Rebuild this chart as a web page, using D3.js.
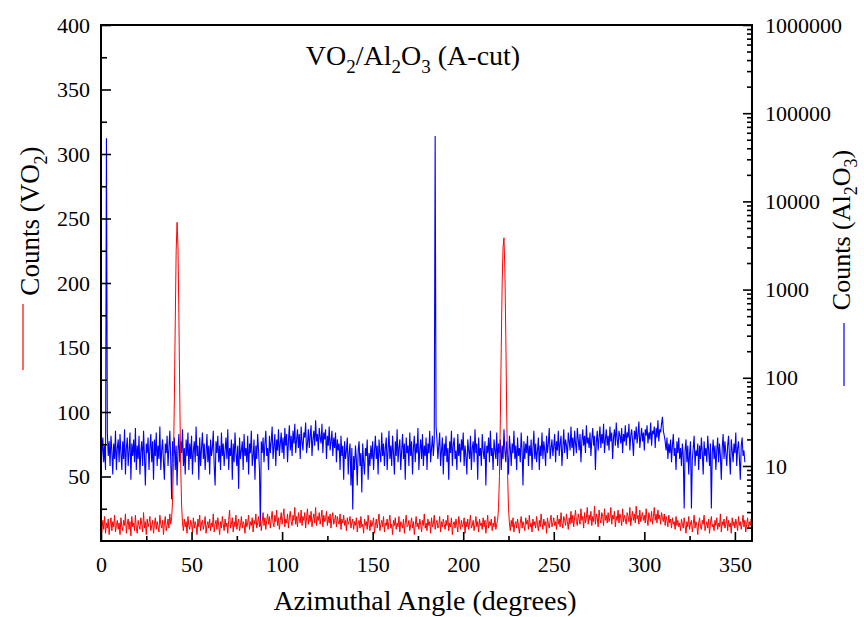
<!DOCTYPE html>
<html>
<head>
<meta charset="utf-8">
<script src="https://cdn.jsdelivr.net/npm/d3@7"></script>
</head>
<body style="margin:0">
<script>
// angle step of both scans (degrees)
var angleStep = 0.5;

// VO2 counts (left, linear axis), 0 to 360 deg, 20 values per row = 10 deg
var vo2Counts = [
  12, 7, 16, 9, 19, 6, 14, 10, 17, 5, 13, 18, 8, 15, 11, 20, 7, 12, 16, 9,
  14, 5, 18, 11, 8, 16, 12, 21, 6, 13, 17, 9, 15, 4, 19, 11, 14, 8, 20, 10,
  6, 16, 12, 9, 18, 13, 7, 22, 10, 15, 5, 17, 11, 14, 19, 8, 12, 16, 6, 13,
  18, 9, 15, 11, 7, 20, 13, 10, 16, 5, 14, 19, 8, 12, 17, 10, 21, 13, 18, 30,
  60, 110, 170, 225, 247, 228, 175, 110, 58, 28, 14, 8, 17, 11, 15, 6, 19, 12, 9, 16,
  13, 7, 18, 10, 15, 12, 5, 17, 11, 20, 8, 14, 16, 9, 13, 19, 6, 12, 15, 10,
  17, 8, 14, 11, 21, 7, 13, 16, 9, 18, 12, 5, 15, 10, 19, 13, 8, 17, 11, 14,
  6, 16, 24, 10, 13, 18, 7, 15, 11, 20, 9, 14, 17, 8, 12, 19, 10, 15, 13, 6,
  17, 11, 14, 20, 9, 15, 12, 18, 7, 16, 13, 21, 10, 14, 19, 11, 17, 8, 15, 22,
  12, 18, 9, 16, 21, 13, 19, 10, 17, 23, 14, 11, 20, 15, 24, 12, 18, 9, 16, 22,
  13, 19, 25, 11, 17, 14, 21, 10, 18, 23, 15, 12, 20, 16, 26, 13, 19, 11, 22, 17,
  14, 24, 12, 19, 16, 22, 10, 18, 25, 13, 20, 15, 23, 11, 17, 21, 14, 26, 12, 19,
  16, 22, 13, 18, 24, 11, 20, 15, 17, 23, 12, 19, 14, 21, 10, 18, 22, 13, 16, 20,
  11, 19, 15, 13, 21, 9, 17, 14, 20, 12, 16, 8, 18, 13, 15, 19, 10, 14, 17, 9,
  15, 12, 18, 7, 14, 16, 10, 19, 11, 13, 6, 17, 12, 15, 9, 20, 13, 8, 16, 11,
  14, 18, 6, 12, 17, 10, 15, 21, 8, 13, 16, 11, 19, 7, 14, 12, 17, 9, 15, 20,
  10, 13, 5, 16, 12, 18, 9, 14, 11, 19, 7, 15, 13, 10, 17, 6, 14, 20, 11, 12,
  16, 8, 13, 18, 10, 15, 5, 12, 19, 11, 14, 9, 17, 13, 7, 16, 12, 21, 10, 14,
  8, 17, 12, 15, 6, 18, 11, 13, 20, 9, 14, 16, 10, 12, 19, 7, 15, 11, 17, 13,
  9, 16, 12, 20, 8, 14, 11, 18, 5, 13, 15, 10, 17, 12, 7, 19, 14, 9, 16, 11,
  13, 18, 6, 15, 11, 17, 9, 14, 20, 10, 12, 16, 8, 13, 19, 11, 15, 7, 17, 12,
  14, 9, 18, 11, 16, 6, 13, 20, 10, 15, 12, 17, 8, 14, 11, 19, 9, 13, 16, 26,
  50, 95, 150, 200, 228, 235, 210, 160, 100, 52, 25, 14, 8, 16, 11, 18, 7, 13, 15, 10,
  17, 12, 6, 14, 19, 10, 15, 12, 8, 18, 13, 16, 9, 20, 11, 14, 7, 17, 12, 15,
  10, 19, 13, 8, 16, 11, 21, 14, 9, 17, 12, 15, 6, 18, 13, 10, 16, 20, 11, 14,
  18, 12, 15, 9, 20, 13, 17, 11, 22, 14, 10, 19, 16, 12, 21, 15, 9, 18, 13, 23,
  14, 20, 11, 18, 24, 15, 12, 21, 17, 13, 25, 16, 19, 10, 22, 14, 18, 26, 13, 20,
  16, 23, 12, 19, 15, 27, 13, 21, 18, 11, 24, 17, 14, 22, 19, 12, 25, 16, 20, 14,
  22, 15, 18, 26, 13, 20, 17, 23, 11, 19, 16, 24, 14, 21, 18, 12, 25, 15, 20, 17,
  13, 22, 19, 15, 26, 12, 18, 23, 16, 21, 14, 27, 17, 20, 13, 24, 15, 19, 22, 16,
  20, 14, 25, 17, 12, 22, 18, 15, 23, 13, 19, 26, 16, 21, 14, 24, 17, 20, 13, 22,
  18, 15, 21, 12, 19, 16, 11, 20, 14, 17, 10, 18, 13, 15, 9, 19, 12, 16, 11, 14,
  8, 17, 13, 10, 18, 12, 6, 15, 11, 19, 9, 14, 16, 7, 13, 20, 10, 15, 12, 5,
  14, 18, 11, 9, 16, 13, 20, 8, 12, 15, 10, 17, 6, 14, 19, 11, 13, 8, 16, 12,
  18, 9, 14, 11, 21, 7, 15, 12, 17, 10, 13, 19, 8, 16, 11, 14, 6, 18, 12, 15,
  10, 17, 13, 8, 19, 12, 15, 9, 14, 20, 11, 16, 7, 13, 18, 10, 15, 12, 17, 9,
  13
];

// Al2O3 counts (right, log axis), 0 to 355.5 deg, 20 values per row = 10 deg
var al2o3Counts = [
  8, 14, 21, 11, 17, 9, 52000, 24, 13, 19, 10, 22, 15, 8, 18, 12, 25, 9, 16, 20,
  11, 23, 14, 9, 19, 12, 26, 8, 16, 21, 10, 15, 24, 7, 18, 13, 20, 11, 27, 9,
  17, 12, 22, 8, 15, 19, 10, 25, 13, 6, 18, 14, 21, 9, 16, 23, 11, 19, 7, 20,
  13, 24, 10, 17, 12, 28, 9, 15, 20, 11, 7, 18, 14, 22, 10, 16, 25, 12, 4.2, 19,
  13, 21, 9, 17, 6, 15, 23, 11, 19, 14, 26, 10, 16, 8, 20, 13, 24, 9, 18, 12,
  22, 8, 15, 19, 11, 28, 13, 17, 7, 21, 10, 16, 24, 12, 18, 9, 14, 23, 11, 17,
  8, 20, 13, 16, 25, 10, 6, 19, 14, 22, 11, 17, 9, 24, 13, 18, 10, 15, 21, 12,
  26, 9, 16, 13, 20, 7, 18, 11, 24, 14, 10, 17, 5.5, 21, 12, 15, 19, 9, 23, 13,
  16, 11, 22, 8, 18, 14, 25, 10, 13, 20, 7, 17, 12, 23, 15, 9, 2.1, 19, 14, 21,
  11, 18, 25, 13, 16, 9, 22, 14, 19, 28, 12, 17, 23, 10, 20, 15, 26, 13, 18, 24,
  14, 21, 12, 27, 17, 23, 11, 19, 29, 15, 22, 13, 25, 18, 30, 14, 20, 26, 16, 23,
  12, 28, 19, 15, 24, 21, 31, 14, 18, 26, 16, 22, 29, 13, 20, 25, 17, 33, 19, 23,
  15, 27, 21, 18, 30, 14, 24, 20, 26, 12, 22, 17, 28, 15, 19, 25, 13, 21, 16, 24,
  11, 20, 15, 18, 9, 22, 13, 17, 7, 19, 12, 15, 21, 8, 14, 18, 6, 16, 3.2, 13,
  9, 17, 12, 6, 15, 19, 10, 14, 5, 18, 11, 8, 16, 13, 20, 7, 14, 10, 17, 12,
  19, 9, 15, 22, 12, 17, 8, 20, 14, 11, 24, 13, 18, 10, 16, 21, 9, 15, 25, 12,
  17, 10, 22, 14, 8, 19, 13, 26, 11, 16, 20, 9, 15, 23, 12, 18, 7, 21, 14, 17,
  10, 24, 13, 19, 8, 16, 22, 11, 18, 14, 27, 9, 15, 20, 12, 23, 10, 17, 13, 21,
  9, 18, 14, 25, 11, 16, 22, 13, 19, 55000, 28, 20, 12, 17, 24, 10, 15, 21, 8, 18,
  13, 22, 11, 16, 7, 19, 14, 25, 10, 17, 21, 12, 15, 9, 23, 13, 18, 11, 20, 15,
  24, 10, 17, 13, 8, 20, 15, 12, 22, 9, 16, 19, 11, 26, 14, 18, 7, 21, 13, 16,
  10, 23, 15, 12, 19, 6, 17, 14, 21, 11, 25, 13, 16, 9, 20, 15, 12, 24, 10, 18,
  14, 20, 9, 17, 12, 26, 15, 11, 19, 13, 8, 22, 16, 10, 18, 14, 25, 12, 17, 9,
  21, 13, 16, 11, 24, 15, 6, 19, 12, 18, 14, 22, 10, 17, 13, 20, 9, 16, 25, 12,
  18, 11, 15, 21, 9, 17, 13, 24, 12, 19, 15, 10, 22, 14, 18, 27, 12, 16, 20, 13,
  17, 23, 11, 19, 15, 25, 13, 18, 22, 10, 16, 26, 14, 20, 17, 12, 24, 19, 15, 28,
  16, 21, 13, 25, 18, 14, 27, 20, 15, 23, 11, 19, 26, 17, 22, 14, 29, 18, 21, 16,
  24, 13, 20, 27, 17, 22, 9, 19, 25, 15, 21, 28, 16, 23, 18, 30, 14, 20, 26, 17,
  22, 15, 28, 19, 24, 12, 21, 26, 17, 31, 20, 16, 25, 22, 18, 27, 14, 23, 19, 29,
  17, 24, 21, 30, 15, 22, 26, 19, 13, 25, 20, 28, 18, 23, 32, 16, 21, 27, 19, 24,
  15, 26, 22, 29, 18, 24, 20, 31, 17, 25, 23, 28, 16, 27, 21, 33, 19, 26, 24, 30,
  36, 25, 22, 19, 15, 21, 12, 18, 14, 20, 11, 17, 23, 13, 16, 9, 19, 14, 21, 12,
  16, 10, 18, 13, 3.3, 15, 20, 11, 17, 8, 14, 19, 3.3, 12, 16, 22, 10, 15, 13, 18,
  9, 17, 12, 21, 14, 8, 19, 13, 16, 11, 22, 15, 10, 18, 3.3, 14, 20, 12, 17, 9,
  15, 21, 11, 18, 13, 7, 16, 23, 12, 19, 14, 10, 17, 22, 13, 8, 20, 15, 11, 18,
  14, 24, 10, 16, 19, 12, 7, 17, 21, 13, 15, 11
];

// tick values
var angleTicks = [0, 50, 100, 150, 200, 250, 300, 350];
var angleMinor = [25, 75, 125, 175, 225, 275, 325];
var leftTicks = [50, 100, 150, 200, 250, 300, 350, 400];
var leftMinor = [25, 75, 125, 175, 225, 275, 325, 375];
var rightTicks = [10, 100, 1000, 10000, 100000, 1000000];

var serif = "Liberation Serif";
var W = 864, H = 617;
var plot = {left: 101, top: 25, right: 752, bottom: 541};

var svg = d3.select("body").append("svg")
    .attr("width", W)
    .attr("height", H);

var x = d3.scaleLinear().domain([0, 360]).range([plot.left, plot.right + 1]);
var yL = d3.scaleLinear().domain([0, 400]).range([plot.bottom, plot.top]);
var yR = d3.scaleLog().domain([1.41, 1000000]).range([plot.bottom, plot.top]);

// minor ticks of the log axis: 2..9 of every decade inside the domain
var rightMinor = [];
[1, 10, 100, 1000, 10000, 100000].forEach(function(dec) {
    for (var k = 2; k <= 9; k++) {
        var v = dec * k;
        if (v >= 1.41 && v <= 1000000) rightMinor.push(v);
    }
});

svg.append("clipPath").attr("id", "clip")
  .append("rect")
    .attr("x", plot.left).attr("y", plot.top)
    .attr("width", plot.right - plot.left).attr("height", plot.bottom - plot.top);

var vo2Line = d3.line()
    .x(function(d, i) { return x(i * angleStep); })
    .y(function(d) { return yL(d); });

var al2o3Line = d3.line()
    .x(function(d, i) { return x(i * angleStep); })
    .y(function(d) { return yR(d); });

var data = svg.append("g").attr("clip-path", "url(#clip)");

data.append("path")
    .datum(al2o3Counts)
    .attr("fill", "none")
    .attr("stroke", "#0000ff")
    .attr("stroke-width", 1.1)
    .attr("d", al2o3Line);

data.append("path")
    .datum(vo2Counts)
    .attr("fill", "none")
    .attr("stroke", "#ff0000")
    .attr("stroke-width", 1)
    .attr("d", vo2Line);

// axes, ticks point inward
function styleAxis(g) {
    g.attr("font-family", null).attr("font-size", null);
    g.select(".domain").remove();
    g.selectAll(".tick line").attr("stroke", "#000").attr("stroke-width", 1.6);
    g.selectAll("text")
        .attr("fill", "#000")
        .attr("font-family", serif)
        .attr("font-size", 22);
}

svg.append("g")
    .attr("transform", "translate(0," + plot.bottom + ")")
    .call(d3.axisBottom(x).tickValues(angleTicks).tickSize(-9).tickPadding(15).tickFormat(d3.format("d")))
    .call(styleAxis);

svg.append("g")
    .attr("transform", "translate(0," + plot.bottom + ")")
    .call(d3.axisBottom(x).tickValues(angleMinor).tickSize(-5).tickFormat(""))
    .call(styleAxis);

svg.append("g")
    .attr("transform", "translate(" + plot.left + ",0)")
    .call(d3.axisLeft(yL).tickValues(leftTicks).tickSize(-10).tickPadding(11).tickFormat(d3.format("d")))
    .call(styleAxis);

svg.append("g")
    .attr("transform", "translate(" + plot.left + ",0)")
    .call(d3.axisLeft(yL).tickValues(leftMinor).tickSize(-6).tickFormat(""))
    .call(styleAxis);

svg.append("g")
    .attr("transform", "translate(" + plot.right + ",0)")
    .call(d3.axisRight(yR).tickValues(rightTicks).tickSize(-9).tickPadding(13).tickFormat(d3.format("d")))
    .call(styleAxis);

svg.append("g")
    .attr("transform", "translate(" + plot.right + ",0)")
    .call(d3.axisRight(yR).tickValues(rightMinor).tickSize(-5).tickFormat(""))
    .call(styleAxis);

// frame
svg.append("rect")
    .attr("x", plot.left).attr("y", plot.top)
    .attr("width", plot.right - plot.left).attr("height", plot.bottom - plot.top)
    .attr("fill", "none")
    .attr("stroke", "#000")
    .attr("stroke-width", 2);

// text with subscripts
function richText(sel, parts, size) {
    parts.forEach(function(p) {
        var t = sel.append("tspan").attr("font-family", serif).text(p[0]);
        if (p[1]) t.attr("dy", size * 0.28).attr("font-size", Math.round(size * 0.68));
        else if (p[2]) t.attr("dy", -size * 0.28);
    });
}

var title = svg.append("text")
    .attr("x", 413).attr("y", 65)
    .attr("font-family", serif)
    .attr("font-size", 28)
    .attr("text-anchor", "middle");
richText(title, [["VO"], ["2", 1], ["/Al", 0, 1], ["2", 1], ["O", 0, 1], ["3", 1], [" (A-cut)", 0, 1]], 28);

svg.append("text")
    .attr("x", 425).attr("y", 610)
    .attr("font-family", serif)
    .attr("font-size", 28)
    .attr("text-anchor", "middle")
    .text("Azimuthal Angle (degrees)");

// left axis title with red key line
var yLeftT = svg.append("text")
    .attr("transform", "translate(39,221) rotate(-90)")
    .attr("font-family", serif)
    .attr("font-size", 27)
    .attr("text-anchor", "middle");
richText(yLeftT, [["Counts (VO"], ["2", 1], [")", 0, 1]], 27);

svg.append("line")
    .attr("x1", 23).attr("x2", 23).attr("y1", 304).attr("y2", 370)
    .attr("stroke", "#ff0000").attr("stroke-width", 1.2);

// right axis title with blue key line
var yRightT = svg.append("text")
    .attr("transform", "translate(850,230) rotate(-90)")
    .attr("font-family", serif)
    .attr("font-size", 26)
    .attr("text-anchor", "middle");
richText(yRightT, [["Counts (Al"], ["2", 1], ["O", 0, 1], ["3", 1], [")", 0, 1]], 26);

svg.append("line")
    .attr("x1", 844).attr("x2", 844).attr("y1", 323).attr("y2", 386)
    .attr("stroke", "#0000ff").attr("stroke-width", 1.2);
</script>
</body>
</html>
